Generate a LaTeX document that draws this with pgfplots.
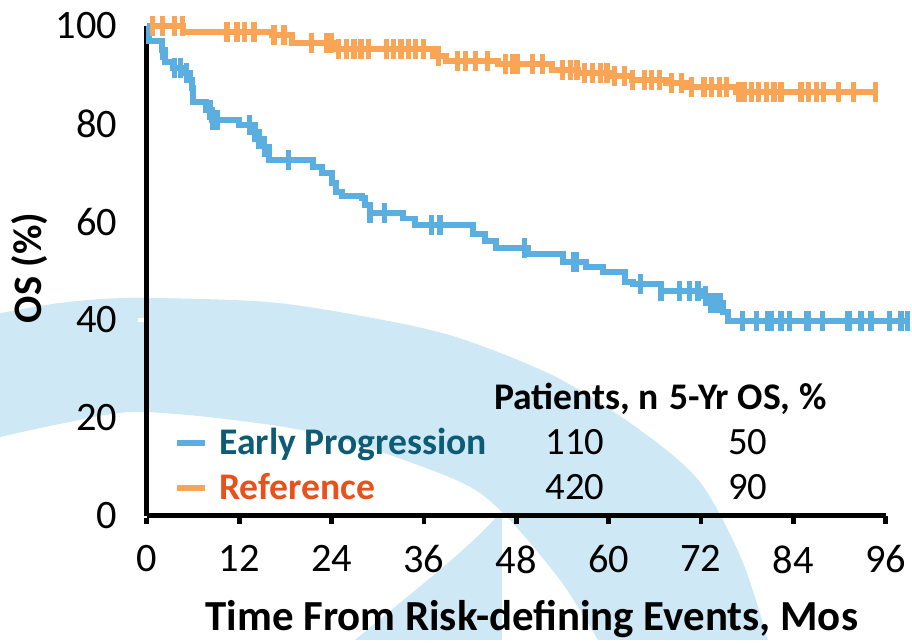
\documentclass[border=0pt]{standalone}
\usepackage{fontspec}
\setmainfont{Carlito}
\usepackage{pgfplots}
\pgfplotsset{compat=1.18}
\definecolor{kmblue}{RGB}{91,174,224}
\definecolor{kmorange}{RGB}{250,165,85}
\definecolor{bgblue}{RGB}{207,232,246}
\definecolor{eptext}{RGB}{11,92,116}
\definecolor{reftext}{RGB}{232,80,28}
\begin{document}
\begin{tikzpicture}
\begin{scope}[x=0.02cm,y=-0.02cm]
\path[use as bounding box] (0,0) rectangle (912,633);
\fill[bgblue] plot[smooth] coordinates {(-4,314) (60,303) (133,298) (267,302) (367,317) (456,337) (556,377) (640,430) (700,482) (742,560) (768,640)}
  -- plot[smooth] coordinates {(598,640) (560,580) (503,513) (456,480) (333,437) (233,420) (133,412) (60,424) (-4,438)} -- cycle;
\fill[bgblue] (500,513) -- (502,513) -- (502,640) -- (355,640) .. controls (415,590) and (470,548) .. (500,513) -- cycle;
\end{scope}
\begin{axis}[
  at={(2.94cm,-10.32cm)}, anchor=south west,
  scale only axis, width=14.78cm, height=9.8cm,
  xmin=0, xmax=96, ymin=0, ymax=100, clip=false,
  axis x line=bottom, axis y line=left,
  axis line style={line width=2.8pt, -},
  xtick={0,12,...,96}, ytick={0,20,...,100},
  tick align=outside,
  major tick length=0.17cm,
  x tick style={line width=2.8pt, black},
  y tick style={line width=2.5pt, white},
  ticklabel style={font=\fontsize{23}{23}\selectfont},
  /pgf/number format/assume math mode=true,
  xticklabel style={yshift=-0.3cm},
  yticklabel style={xshift=-0.3cm},
  every axis x label/.style={at={(axis description cs:0.521,0)}, anchor=base, yshift=-2.3cm, font=\bfseries\fontsize{24.4}{24.4}\selectfont},
  every axis y label/.style={at={(axis description cs:0,0.506)}, anchor=center, xshift=-2.34cm, rotate=90, font=\bfseries\fontsize{23}{23}\selectfont},
  xlabel={Time From Risk-defining Events, Mos},
  ylabel={OS (\%)},
]
% Reference
\addplot[const plot, kmorange, line width=3.4pt, line join=miter] coordinates {
(0,100) (4.7,98.7) (16.2,98.2) (18.8,96.6) (24.5,95.3) (37.2,93.8) (38.8,92.8) (45.6,92.3) (52.7,91.0) (56.0,90.5) (60.1,89.7) (63.0,89.0) (67.5,88.3) (70.0,87.6) (76.6,86.5) (94.7,86.5)};
\addplot[only marks, mark=|, kmorange, mark size=5.7pt, mark options={line width=3pt}] coordinates {
(0.7,100) (2.0,100) (3.6,100) (4.6,100)
(10.4,98.7) (11.7,98.7) (12.7,98.7) (13.9,98.7)
(16.5,98.2) (17.8,98.2)
(21.4,96.6) (23.3,96.6) (24.0,96.6)
(24.9,95.3) (25.9,95.3) (26.9,95.3) (27.8,95.3) (28.8,95.3) (31.1,95.3) (32.0,95.3) (33.0,95.3) (34.0,95.3) (34.9,95.3) (35.9,95.3)
(37.9,93.8)
(40.4,92.8) (41.4,92.8) (42.7,92.8) (44.3,92.8)
(46.6,92.3) (47.5,92.3) (48.2,92.3) (50.1,92.3) (51.4,92.3)
(54.0,91.0) (55.0,91.0) (55.9,91.0)
(56.9,90.5) (57.9,90.5) (58.9,90.5) (59.8,90.5)
(60.8,89.7) (62.1,89.7)
(63.1,89.0) (64.7,89.0) (65.6,89.0) (66.6,89.0)
(68.2,88.3) (69.5,88.3)
(70.8,87.6) (72.4,87.6) (73.4,87.6) (74.4,87.6) (75.3,87.6)
(76.9,86.5) (77.6,86.5) (78.6,86.5) (79.5,86.5) (80.5,86.5) (81.5,86.5) (82.4,86.5) (85.0,86.5) (86.0,86.5) (87.0,86.5) (87.9,86.5) (89.9,86.5) (91.8,86.5) (94.7,86.5)};
% Early progression
\addplot[const plot, kmblue, line width=3.4pt, line join=miter] coordinates {
(0,100) (0.3,97.0) (1.9,95.1) (2.3,92.7) (3.4,91.5) (4.5,90.5) (5.6,89.0) (5.8,87.3) (6.0,84.5) (7.7,82.9) (8.4,80.8) (11.9,79.8) (14.0,78.4) (14.5,75.4) (15.8,72.7) (21.6,71.3) (22.7,70.0) (24.0,68.0) (24.6,66.2) (25.3,65.3) (27.9,64.8) (28.3,63.5) (29.0,61.9) (33.3,60.7) (34.8,59.4) (42.4,57.5) (43.9,56.2) (45.4,54.6) (49.5,53.4) (54.1,51.9) (57.1,50.7) (59.3,49.7) (62.1,47.8) (63.2,47.3) (66.8,45.8) (72.2,44.8) (73.3,43.4) (74.8,41.7) (75.5,39.7) (98.8,39.7)};
\addplot[only marks, mark=|, kmblue, mark size=5.7pt, mark options={line width=3pt}] coordinates {
(2.0,95.1) (3.6,91.5) (4.4,91.5) (5.1,90.5) (8.2,82.9) (8.6,80.8) (9.1,80.8) (13.3,79.8) (14.0,78.4) (15.3,75.4) (18.4,72.7) (29.0,61.9) (30.9,61.9) (37.0,59.4) (38.1,59.4) (49.1,54.6) (55.4,51.9) (55.8,51.9) (64.1,47.3) (66.8,45.8) (69.2,45.8) (70.5,45.8) (71.6,45.8) (72.6,44.8) (73.3,43.4) (73.9,43.4) (74.5,43.4) (77.4,39.7) (79.2,39.7) (80.7,39.7) (81.1,39.7) (82.4,39.7) (83.5,39.7) (85.7,39.7) (85.9,39.7) (87.8,39.7) (91.1,39.7) (91.3,39.7) (92.8,39.7) (94.1,39.7) (96.5,39.7) (98.0,39.7) (98.8,39.7)};
\end{axis}
\begin{scope}[x=0.02cm,y=-0.02cm]
\draw[kmblue, line width=3.2pt] (177,443) -- (205,443);
\draw[kmorange, line width=3.2pt] (177,488) -- (205,488);
\node[anchor=base west, inner sep=0, text=eptext, font=\bfseries\fontsize{21.4}{21.4}\selectfont] at (219,455) {Early Progression};
\node[anchor=base west, inner sep=0, text=reftext, font=\bfseries\fontsize{21.4}{21.4}\selectfont] at (219,500) {Reference};
\node[anchor=base west, inner sep=0, font=\bfseries\fontsize{21.4}{21.4}\selectfont] at (494,410) {Patients, n};
\node[anchor=base west, inner sep=0, font=\bfseries\fontsize{21.4}{21.4}\selectfont] at (669,410) {5-Yr OS, \%};
\node[anchor=base, inner sep=0, font=\fontsize{22}{22}\selectfont] at (575,455) {110};
\node[anchor=base, inner sep=0, font=\fontsize{22}{22}\selectfont] at (748,455) {50};
\node[anchor=base, inner sep=0, font=\fontsize{22}{22}\selectfont] at (575,500) {420};
\node[anchor=base, inner sep=0, font=\fontsize{22}{22}\selectfont] at (748,500) {90};
\end{scope}
\end{tikzpicture}
\end{document}
